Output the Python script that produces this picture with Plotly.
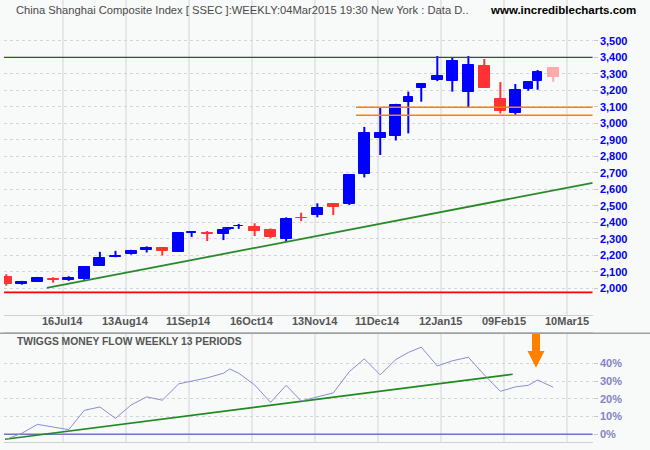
import plotly.graph_objects as go

# ---------------- data ----------------
week_pos = [0, 1, 2, 3, 4, 5, 6, 7, 8, 9, 10, 11.05, 11.88, 12.88, 13.92, 14.32,
            14.9, 15.92, 16.94, 17.94, 18.9, 19.94, 20.96, 21.99, 22.95, 23.97,
            24.97, 25.77, 26.6, 27.63, 28.59, 29.62, 30.64, 31.67, 32.63, 33.46,
            34.06, 35.06]
opens = [2067, 2026, 2041, 2059, 2051, 2059, 2138, 2189, 2205, 2235, 2245, 2222,
         2337, 2333, 2329, 2357, 2376, 2369, 2353, 2297, 2429, 2444, 2509, 2510,
         2695, 2914, 2926, 3132, 3216, 3263, 3256, 3192, 3347, 3147, 3064, 3210,
         3258, 3335]
highs = [2085, 2045, 2069, 2067, 2073, 2131, 2221, 2227, 2233, 2254, 2246, 2336,
         2347, 2347, 2371, 2370, 2390, 2394, 2363, 2430, 2458, 2515, 2515, 2690,
         2978, 3096, 3118, 3192, 3240, 3408, 3401, 3408, 3390, 3250, 3238, 3256,
         3323, 3336]
lows = [2016, 2022, 2041, 2034, 2045, 2051, 2137, 2188, 2204, 2217, 2199, 2220,
        2311, 2286, 2292, 2355, 2360, 2317, 2303, 2281, 2407, 2430, 2444, 2505,
        2672, 2808, 2896, 2939, 3131, 3256, 3192, 3096, 3214, 3060, 3052, 3198,
        3204, 3252]
closes = [2028, 2039, 2063, 2053, 2065, 2130, 2185, 2197, 2227, 2245, 2223, 2333,
          2341, 2329, 2351, 2367, 2380, 2347, 2311, 2422, 2425, 2485, 2493, 2684,
          2942, 2942, 3112, 3162, 3238, 3287, 3378, 3353, 3216, 3076, 3202, 3250,
          3311, 3283]
money_flow = [-2.8, 0.6, 5.6, 3.9, 2.6, 13.5, 15.4, 9.0, 16.5, 21.1, 19.2, 28.4,
              30.1, 31.8, 34.4, 36.8, 34.4, 27.8, 18.0, 27.6, 18.8, 20.9, 23.3,
              35.3, 42.5, 33.5, 42.1, 46.1, 49.1, 38.5, 41.4, 43.4, 33.5, 24.2,
              26.7, 27.6, 30.6, 26.5]

resistance_level = 3400
support_levels = [3097, 3049]
support_start = 22.42
floor_level = 1975
trend_main_x = [2.6, 37.59]
trend_main_y = [2002, 2639]
trend_mf_x = [-0.08, 32.46]
trend_mf_y = [-2.8, 33.8]

x_tick_labels = ["16Jul14", "13Aug14", "11Sep14", "16Oct14", "13Nov14",
                 "11Dec14", "12Jan15", "09Feb15", "10Mar15"]
price_ticks = list(range(2000, 3501, 100))
mf_ticks = [0, 10, 20, 30, 40]

# ---------------- layout helpers ----------------
W, H = 650, 450
x_tick_pos = [3.62 + 4.04 * i for i in range(len(x_tick_labels))]
x_range = [-0.147, 37.59]
x_dom = [4 / W, 592.7 / W]
main_dom = [1 - 315 / H, 1.0]
mf_dom = [(H - 441.7) / H, (H - 333.3) / H]

BLUE, RED, PINK = "#0000ff", "#ff3333", "#ffaaaa"
n = len(opens)
colors = []
for i in range(n):
    if i == n - 1:
        colors.append(PINK)
    elif closes[i] >= opens[i]:
        colors.append(BLUE)
    else:
        colors.append(RED)
widths = []
for i in range(n):
    gap = week_pos[i] - week_pos[i - 1] if i > 0 else 1
    widths.append(0.7 if gap >= 0.95 else 0.56)

fig = go.Figure()

# wicks
for col in (BLUE, RED, PINK):
    xs, ys = [], []
    for i in range(n):
        if colors[i] == col:
            xs += [week_pos[i], week_pos[i], None]
            ys += [lows[i], highs[i], None]
    fig.add_trace(go.Scatter(x=xs, y=ys, mode="lines", line=dict(color=col, width=2),
                             hoverinfo="skip", showlegend=False, xaxis="x", yaxis="y"))

# bodies
fig.add_trace(go.Bar(
    x=week_pos,
    y=[max(abs(c - o), 0.5) for o, c in zip(opens, closes)],
    base=[min(o, c) for o, c in zip(opens, closes)],
    width=widths,
    marker=dict(color=colors, line=dict(color=colors, width=1)),
    showlegend=False, xaxis="x", yaxis="y"))

# trend line (main)
fig.add_trace(go.Scatter(x=trend_main_x, y=trend_main_y, mode="lines",
                         line=dict(color="#2a8a2a", width=1.8),
                         showlegend=False, xaxis="x", yaxis="y"))
# support lines
for lvl in support_levels:
    fig.add_trace(go.Scatter(x=[support_start, x_range[1]], y=[lvl, lvl], mode="lines",
                             line=dict(color="#ff8000", width=1.6),
                             showlegend=False, xaxis="x", yaxis="y"))
# resistance & floor
fig.add_trace(go.Scatter(x=x_range, y=[resistance_level] * 2, mode="lines",
                         line=dict(color="#1f5f1f", width=1.2),
                         showlegend=False, xaxis="x", yaxis="y"))
fig.add_trace(go.Scatter(x=x_range, y=[floor_level] * 2, mode="lines",
                         line=dict(color="#ff0000", width=1.6),
                         showlegend=False, xaxis="x", yaxis="y"))

# lower panel
fig.add_trace(go.Scatter(x=x_range, y=[0, 0], mode="lines",
                         line=dict(color="#7474c0", width=1.5),
                         showlegend=False, xaxis="x2", yaxis="y2"))
fig.add_trace(go.Scatter(x=trend_mf_x, y=trend_mf_y, mode="lines",
                         line=dict(color="#1f8a1f", width=1.6),
                         showlegend=False, xaxis="x2", yaxis="y2"))
fig.add_trace(go.Scatter(x=week_pos, y=money_flow, mode="lines",
                         line=dict(color="#8c8cd2", width=1),
                         showlegend=False, xaxis="x2", yaxis="y2"))

grid_v = "#e6e8e8"
grid_h = "#d4d6d6"
font_family = "Liberation Sans, Arial, sans-serif"

fig.update_layout(
    width=W, height=H, autosize=False,
    margin=dict(l=0, r=0, t=0, b=0),
    paper_bgcolor="#f8f9f9", plot_bgcolor="#f8f9f9",
    bargap=0, barmode="overlay",
    font=dict(family=font_family),
    xaxis=dict(domain=x_dom, range=x_range, anchor="y", tickmode="array",
               tickvals=x_tick_pos, showticklabels=False, showgrid=True,
               gridcolor=grid_v, gridwidth=2, zeroline=False, ticks="",
               showline=True, linecolor="#d0d0d0", mirror=True, automargin=False),
    yaxis=dict(domain=main_dom, range=[1838, 3747.5], anchor="x", side="right",
               tickmode="array", tickvals=price_ticks, tickformat=",d",
               showgrid=True, gridcolor=grid_h, griddash="dot", zeroline=False,
               ticks="outside", ticklen=4, tickcolor="#c8c8c8",
               tickfont=dict(size=11, color="#0000ee", weight="bold"),
               showline=False, automargin=False),
    xaxis2=dict(domain=x_dom, range=x_range, anchor="y2", matches="x",
                tickmode="array", tickvals=x_tick_pos, showticklabels=False,
                showgrid=True, gridcolor=grid_v, gridwidth=2, zeroline=False,
                showline=True, linecolor="#d0d0d0", mirror=True, automargin=False),
    yaxis2=dict(domain=mf_dom, range=[-4.17, 56.9], anchor="x2", side="right",
                tickmode="array", tickvals=mf_ticks,
                ticktext=[f"{v}%" for v in mf_ticks],
                showgrid=True, gridcolor=grid_h, griddash="dot", zeroline=False,
                ticks="outside", ticklen=4, tickcolor="#c8c8c8",
                tickfont=dict(size=11, color="#8484c4", weight="bold"),
                showline=False, automargin=False),
)

# x-axis date labels (placed just under the price panel)
for pos, lab in zip(x_tick_pos, x_tick_labels):
    fig.add_annotation(text=lab, x=pos, xref="x", y=1 - 321 / H, yref="paper",
                       xanchor="center", yanchor="middle", showarrow=False,
                       font=dict(size=11, color="#555555", family=font_family,
                                 weight="bold"))

# separator line above the lower panel
fig.add_shape(type="line", xref="paper", yref="paper", x0=0, x1=1,
              y0=(H - 333.3) / H, y1=(H - 333.3) / H,
              line=dict(color="#a0a0a0", width=1.5))

# orange arrow
cx, hw, hh = 536 / W, 4 / W, 8.5 / W
yt, yb, yp = (H - 334) / H, (H - 351) / H, (H - 367.7) / H
path = (f"M {cx - hw},{yt} L {cx + hw},{yt} L {cx + hw},{yb} L {cx + hh},{yb} "
        f"L {cx},{yp} L {cx - hh},{yb} L {cx - hw},{yb} Z")
fig.add_shape(type="path", xref="paper", yref="paper", path=path,
              fillcolor="#ff8000", line=dict(width=0))

# titles
fig.add_annotation(text="China Shanghai Composite Index [ SSEC ]:WEEKLY:04Mar2015 19:30 New York : Data D..",
                   xref="paper", yref="paper", x=14 / W, y=1 - 10 / H,
                   xanchor="left", yanchor="middle", showarrow=False,
                   font=dict(size=11.2, color="#4a4a4a", family=font_family))
fig.add_annotation(text="www.incrediblecharts.com", xref="paper", yref="paper",
                   x=638 / W, y=1 - 10 / H, xanchor="right", yanchor="middle",
                   showarrow=False,
                   font=dict(size=11.5, color="#000000", family=font_family, weight="bold"))
fig.add_annotation(text="TWIGGS MONEY FLOW WEEKLY 13 PERIODS", xref="paper", yref="paper",
                   x=15 / W, y=1 - 341 / H, xanchor="left", yanchor="middle",
                   showarrow=False,
                   font=dict(size=10.3, color="#555555", family=font_family, weight="bold"))

fig.write_html("out.html")
